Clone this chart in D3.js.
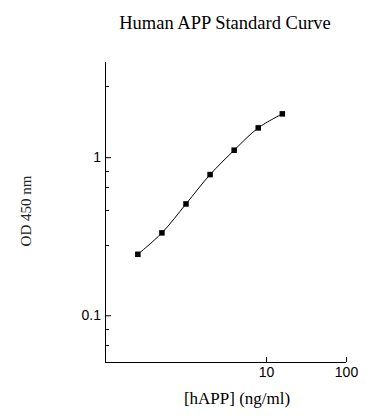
<!DOCTYPE html>
<html>
<head>
<meta charset="utf-8">
<script src="https://cdn.jsdelivr.net/npm/d3@7"></script>
<style>
  html, body { margin: 0; padding: 0; background: #fff; }
  svg { display: block; font-family: "Liberation Serif", "Times New Roman", serif; }
</style>
</head>
<body>
<div id="chart"></div>
<script>
// Standard curve: concentration (ng/ml) vs OD 450 nm
const concentrations = [0.25, 0.5, 1, 2, 4, 8, 16];
const odValues = [0.243, 0.332, 0.506, 0.776, 1.107, 1.532, 1.879];

const xTickValues = [10, 100];
const xTickLabels = ['10', '100'];
const yTickValues = [0.1, 1];
const yTickLabels = ['0.1', '1'];
const yMinorTicks = [0.065, 0.082, 0.28, 0.46, 0.65, 0.82, 2.83];

const width = 388, height = 420;
const margin = { top: 62, right: 42, bottom: 58, left: 105 };

const svg = d3.select('#chart')
  .append('svg')
  .attr('width', width)
  .attr('height', height);

const x = d3.scaleLog()
  .domain([0.1, 100])
  .range([margin.left + 1, width - margin.right]);

const y = d3.scaleLog()
  .domain([0.0504, 4])
  .range([height - margin.bottom + 0.3, margin.top]);

// Title
svg.append('text')
  .attr('x', 225)
  .attr('y', 29)
  .attr('text-anchor', 'middle')
  .style('font-size', '18.5px')
  .text('Human APP Standard Curve');

// X axis (ticks point inward)
const xAxis = d3.axisBottom(x)
  .tickValues(xTickValues)
  .tickFormat((d, i) => xTickLabels[i])
  .tickSize(-5)
  .tickPadding(5);

svg.append('g')
  .attr('transform', `translate(0,${height - margin.bottom})`)
  .call(xAxis)
  .call(g => g.select('.domain').attr('d', `M${margin.left},0.5H${x(100)}`))
  .call(g => g.selectAll('text').attr('dy', null).attr('y', 15).style('font-size', '14px').style('font-family', 'inherit').attr('fill', '#000'))
  .call(g => g.selectAll('line, path').attr('stroke', '#000'));

// Y axis (ticks point inward)
const yAxis = d3.axisLeft(y)
  .tickValues(yTickValues)
  .tickFormat((d, i) => yTickLabels[i])
  .tickSize(-6)
  .tickPadding(4);

svg.append('g')
  .attr('transform', `translate(${margin.left},0)`)
  .call(yAxis)
  .call(g => g.select('.domain').attr('d', `M0.5,${margin.top}V${height - margin.bottom + 0.5}`))
  .call(g => g.selectAll('text').style('font-size', '14px').style('font-family', 'inherit').attr('fill', '#000'))
  .call(g => g.selectAll('line, path').attr('stroke', '#000'));

// Minor y ticks
svg.append('g')
  .selectAll('line')
  .data(yMinorTicks)
  .join('line')
  .attr('x1', margin.left)
  .attr('x2', margin.left + 4)
  .attr('y1', d => Math.round(y(d)) + 0.5)
  .attr('y2', d => Math.round(y(d)) + 0.5)
  .attr('stroke', '#000');

// Axis labels
svg.append('text')
  .attr('x', 237)
  .attr('y', 404)
  .attr('text-anchor', 'middle')
  .style('font-size', '17px')
  .text('[hAPP] (ng/ml)');

svg.append('text')
  .attr('transform', 'translate(31,211) rotate(-90)')
  .attr('text-anchor', 'middle')
  .style('font-size', '15px')
  .style('fill', '#222')
  .text('OD 450 nm');

// Fitted curve
const points = concentrations.map((c, i) => ({ c, od: odValues[i] }));

const line = d3.line()
  .x(d => x(d.c))
  .y(d => y(d.od))
  .curve(d3.curveCatmullRom.alpha(0.5));

svg.append('path')
  .datum(points)
  .attr('fill', 'none')
  .attr('stroke', '#000')
  .attr('stroke-width', 1)
  .attr('d', line);

// Markers
const s = 5.5;
svg.append('g')
  .selectAll('rect')
  .data(points)
  .join('rect')
  .attr('x', d => x(d.c) - s / 2)
  .attr('y', d => y(d.od) - s / 2)
  .attr('width', s)
  .attr('height', s)
  .attr('fill', '#000');
</script>
</body>
</html>
